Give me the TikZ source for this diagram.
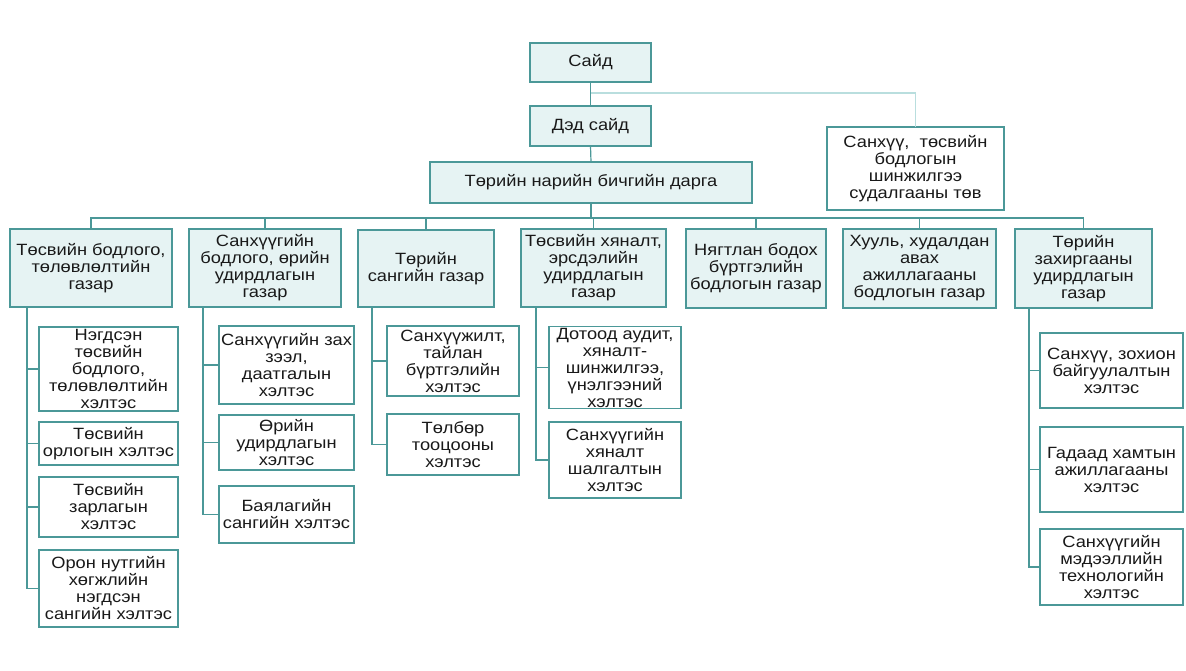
\documentclass[tikz,border=0pt]{standalone}
\usepackage{fontspec}
\setmainfont[FakeStretch=1.12]{Liberation Sans}
\definecolor{teal1}{RGB}{75,152,152}
\definecolor{tealfill}{RGB}{230,243,243}
\definecolor{teallight}{RGB}{185,222,222}
\tikzset{
  base/.style={draw=teal1, line width=1.3pt, align=center, inner sep=1pt, outer sep=0pt,
    font=\fontsize{16.3}{17}\selectfont, text=black!90},
  topbox/.style={base, fill=tealfill},
  subbox/.style={base, fill=white},
  conn/.style={draw=teal1, line width=1.2pt},
  lightconn/.style={draw=teallight, line width=1.2pt}
}
\newcommand\obox[7]{%
  \pgfmathsetmacro\bw{#5-#3}\pgfmathsetmacro\bh{#6-#4}%
  \pgfmathsetmacro\bcx{(#3+#5)/2}\pgfmathsetmacro\bcy{(#4+#6)/2}%
  \node[#2, minimum width=\bw pt, minimum height=\bh pt] (#1) at (\bcx,\bcy) {#7};}
\begin{document}
\begin{tikzpicture}[x=1pt,y=-1pt]
\useasboundingbox (0,0) rectangle (1186,670);
% top
\obox{said}{topbox}{530}{43}{651}{82}{Сайд}
\obox{ded}{topbox}{530}{106}{651}{146}{Дэд сайд}
\obox{tnb}{topbox}{430}{162}{752}{203}{Төрийн нарийн бичгийн дарга}
\obox{tov}{subbox}{827}{127}{1004}{210}{Санхүү,\ \ төсвийн\\бодлогын\\шинжилгээ\\судалгааны төв}
% level 2
\obox{g1}{topbox}{10}{229}{172}{307}{Төсвийн бодлого,\\төлөвлөлтийн\\газар}
\obox{g2}{topbox}{189}{229}{341}{307}{Санхүүгийн\\бодлого, өрийн\\удирдлагын\\газар}
\obox{g3}{topbox}{358}{230}{494}{307}{Төрийн\\сангийн газар}
\obox{g4}{topbox}{521}{229}{666}{307}{Төсвийн хяналт,\\эрсдэлийн\\удирдлагын\\газар}
\obox{g5}{topbox}{686}{229}{826}{308}{Нягтлан бодох\\бүртгэлийн\\бодлогын газар}
\obox{g6}{topbox}{843}{229}{996}{308}{Хууль, худалдан\\авах\\ажиллагааны\\бодлогын газар}
\obox{g7}{topbox}{1015}{229}{1152}{308}{Төрийн\\захиргааны\\удирдлагын\\газар}
% level 3
\obox{c11}{subbox}{39}{327}{178}{411}{Нэгдсэн\\төсвийн\\бодлого,\\төлөвлөлтийн\\хэлтэс}
\obox{c12}{subbox}{39}{422}{178}{465}{Төсвийн\\орлогын хэлтэс}
\obox{c13}{subbox}{39}{477}{178}{537}{Төсвийн\\зарлагын\\хэлтэс}
\obox{c14}{subbox}{39}{550}{178}{627}{Орон нутгийн\\хөгжлийн\\нэгдсэн\\сангийн хэлтэс}
\obox{c21}{subbox}{219}{326}{354}{404}{Санхүүгийн зах\\зээл,\\даатгалын\\хэлтэс}
\obox{c22}{subbox}{219}{415}{354}{470}{Өрийн\\удирдлагын\\хэлтэс}
\obox{c23}{subbox}{219}{486}{354}{543}{Баялагийн\\сангийн хэлтэс}
\obox{c31}{subbox}{387}{326}{519}{396}{Санхүүжилт,\\тайлан\\бүртгэлийн\\хэлтэс}
\obox{c32}{subbox}{387}{414}{519}{475}{Төлбөр\\тооцооны\\хэлтэс}
\obox{c41}{subbox}{549}{327}{681}{408}{Дотоод аудит,\\хяналт-\\шинжилгээ,\\үнэлгээний\\хэлтэс}
\obox{c42}{subbox}{549}{422}{681}{498}{Санхүүгийн\\хяналт\\шалгалтын\\хэлтэс}
\obox{c71}{subbox}{1040}{333}{1183}{408}{Санхүү, зохион\\байгуулалтын\\хэлтэс}
\obox{c72}{subbox}{1040}{427}{1183}{512}{Гадаад хамтын\\ажиллагааны\\хэлтэс}
\obox{c73}{subbox}{1040}{529}{1183}{605}{Санхүүгийн\\мэдээллийн\\технологийн\\хэлтэс}
% connectors top
\coordinate (sj) at ([yshift=-11pt]said.south);
\draw[lightconn] (sj) -| (tov.north);
\draw[conn] (said.south) -- (ded.north);
\draw[conn] (ded.south) -- (tnb.north);
\coordinate (bus) at (591,218);
\draw[conn, line width=2pt] (tnb.south) -- (bus);
\draw[conn] (g1.north) -- (g1.north |- bus) -- (g7.north |- bus) -- (g7.north);
\foreach \g in {g2,g3,g4,g5,g6} \draw[conn] (\g.north) -- (\g.north |- bus);
% children
\coordinate (v1) at ([xshift=17pt]g1.south west);
\coordinate (v2) at ([xshift=14pt]g2.south west);
\coordinate (v3) at ([xshift=14pt]g3.south west);
\coordinate (v4) at ([xshift=15pt]g4.south west);
\coordinate (v7) at ([xshift=14pt]g7.south west);
\foreach \c in {c11,c12,c13,c14} \draw[conn] (v1) |- (\c.west);
\foreach \c in {c21,c22,c23} \draw[conn] (v2) |- (\c.west);
\foreach \c in {c31,c32} \draw[conn] (v3) |- (\c.west);
\foreach \c in {c41,c42} \draw[conn] (v4) |- (\c.west);
\foreach \c in {c71,c72,c73} \draw[conn] (v7) |- (\c.west);
\end{tikzpicture}
\end{document}
